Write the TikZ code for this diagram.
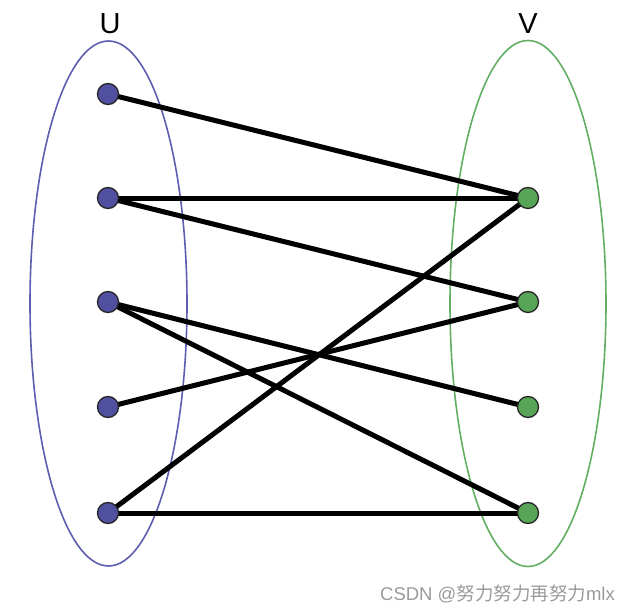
\documentclass[tikz,border=0pt]{standalone}
\usepackage{fontspec}
\setmainfont{Liberation Sans}
\newfontfamily\cjk{Noto Sans CJK SC}
\usepackage{xcolor}
\definecolor{cLeft}{HTML}{5050A0}
\definecolor{cLeftLine}{HTML}{5E5EB0}
\definecolor{cRight}{HTML}{58A558}
\definecolor{cRightLine}{HTML}{62AE62}
\definecolor{cMark}{HTML}{9A9A9A}
\usepackage{tikz}
\usetikzlibrary{positioning,backgrounds}
\tikzset{
  node-u/.style={circle,draw=black!85,line width=1.3pt,fill=cLeft,
    minimum size=21pt,inner sep=0pt},
  node-v/.style={circle,draw=black!85,line width=1.3pt,fill=cRight,
    minimum size=21pt,inner sep=0pt},
  set-u/.style={draw=cLeftLine,line width=1.6pt},
  set-v/.style={draw=cRightLine,line width=1.6pt},
  edge/.style={line width=5pt,draw=black},
}

\begin{document}
\begin{tikzpicture}[x=1pt,y=-1pt]
  \useasboundingbox (0,0) rectangle (633,610);
  \node[font=\fontsize{29}{29}\selectfont] (lu) at (110,24) {U};
  \node[font=\fontsize{29}{29}\selectfont] (lv) at (528,24) {V};
  % vertices
  \foreach \i/\y in {1/94,2/198,3/302,4/407,5/513}
    \node[node-u] (u\i) at (108,\y) {};
  \foreach \i/\y in {1/198,2/302,3/407,4/513}
    \node[node-v] (v\i) at (528,\y) {};
  % the two sets, then the edges, all under the vertices
  \begin{scope}[on background layer]
    \draw[set-u] (108.5,303.5) ellipse [x radius=78.5,y radius=262.5];
    \draw[set-v] (528,303.5) ellipse [x radius=78,y radius=263];
    \foreach \a/\b in {1/1,2/1,2/2,3/3,3/4,4/2,5/1,5/4}
      \draw[edge] (u\a.center) -- (v\b.center);
  \end{scope}
  % watermark
  \node[anchor=base east,text=cMark,font=\fontsize{18.5}{18.5}\selectfont,inner sep=0pt]
    (mark) at (615,600) {CSDN @{\cjk 努力努力再努力}mlx};
\end{tikzpicture}
\end{document}
